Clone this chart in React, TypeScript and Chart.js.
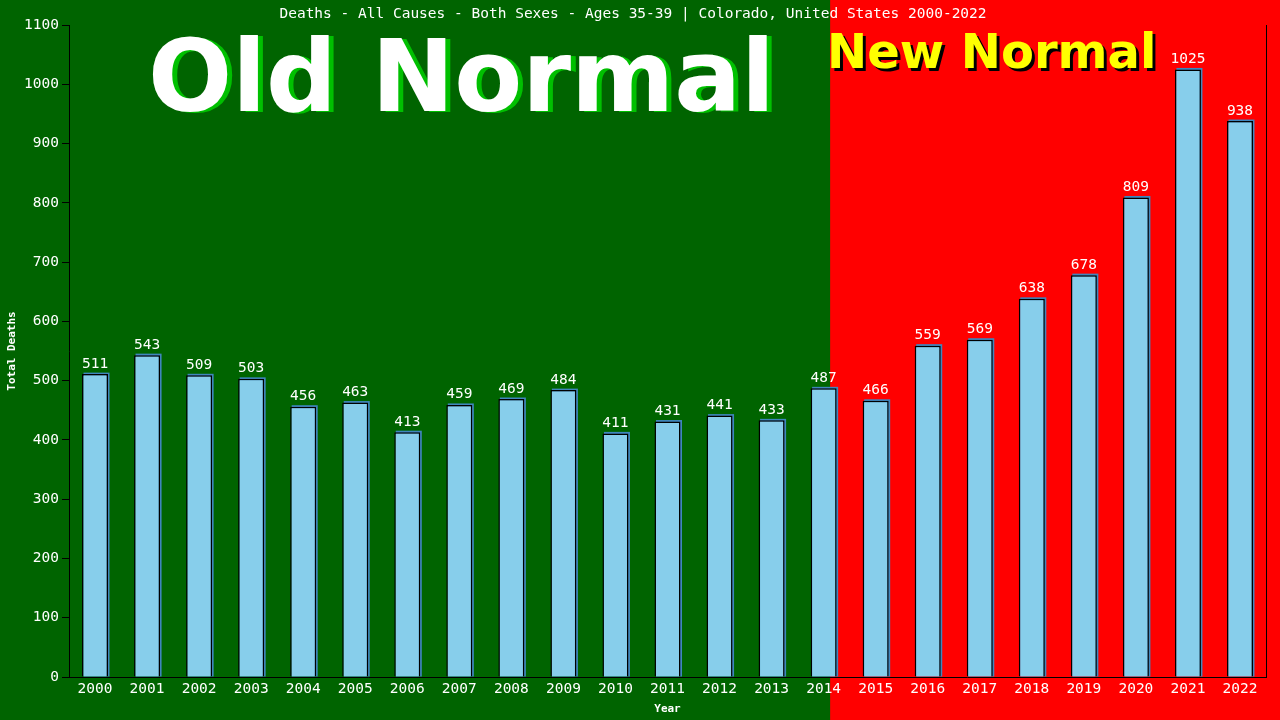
import React, { useEffect, useRef } from "react";
import { Chart, registerables } from "chart.js";

Chart.register(...registerables);

const years: string[] = [
  "2000", "2001", "2002", "2003", "2004", "2005", "2006", "2007", "2008", "2009", "2010", "2011",
  "2012", "2013", "2014", "2015", "2016", "2017", "2018", "2019", "2020", "2021", "2022",
];
const deaths: number[] = [
  511, 543, 509, 503, 456, 463, 413, 459, 469, 484, 411, 431, 441, 433, 487, 466, 559, 569, 638, 678,
  809, 1025, 938,
];
const titleText = "Deaths - All Causes - Both Sexes - Ages 35-39 | Colorado, United States 2000-2022";
const oldLabel = "Old Normal";
const newLabel = "New Normal";
const yTitle = "Total Deaths";
const xTitle = "Year";

const MONO = "'DejaVu Sans Mono', 'Liberation Mono', monospace";
const SANS_BOLD = "'DejaVu Sans', 'Noto Sans', sans-serif";

const backgroundPlugin = {
  id: "bgSplit",
  beforeDraw(chart: any) {
    const { ctx, width, height } = chart;
    const xs = chart.scales.x;
    const p14 = xs.getPixelForValue(14);
    const p15 = xs.getPixelForValue(15);
    const split = p14 + (p15 - p14) * 0.125;
    ctx.save();
    ctx.fillStyle = "#006400";
    ctx.fillRect(0, 0, width, height);
    ctx.fillStyle = "#ff0000";
    ctx.fillRect(split, 0, width - split, height);
    ctx.restore();
  },
};

const overlayPlugin = {
  id: "overlay",
  beforeDatasetsDraw(chart: any) {
    const { ctx, chartArea } = chart;
    ctx.save();
    ctx.textAlign = "left";
    ctx.textBaseline = "alphabetic";
    ctx.font = `bold 99px ${SANS_BOLD}`;
    ctx.fillStyle = "#00c000";
    ctx.fillText(oldLabel, 153, 112);
    ctx.fillStyle = "#ffffff";
    ctx.fillText(oldLabel, 148, 111);

    ctx.font = `bold 48px ${SANS_BOLD}`;
    ctx.fillStyle = "#000000";
    ctx.fillText(newLabel, 830, 71);
    ctx.fillStyle = "#ffff00";
    ctx.fillText(newLabel, 827, 68);

    ctx.strokeStyle = "#000000";
    ctx.lineWidth = 1;
    ctx.beginPath();
    ctx.moveTo(Math.round(chartArea.right) + 0.5, chartArea.top);
    ctx.lineTo(Math.round(chartArea.right) + 0.5, chartArea.bottom);
    ctx.stroke();

    const meta = chart.getDatasetMeta(0);
    ctx.fillStyle = "#3f86bd";
    meta.data.forEach((bar: any) => {
      const props = bar.getProps(["x", "y", "base", "width"], true);
      const left = props.x - props.width / 2;
      ctx.fillRect(left + 1.5, props.y - 1.5, props.width, props.base - props.y + 1.5);
    });
    ctx.restore();
  },
  afterDatasetsDraw(chart: any) {
    const { ctx } = chart;
    const meta = chart.getDatasetMeta(0);
    ctx.save();
    ctx.font = `14.5px ${MONO}`;
    ctx.fillStyle = "#ffffff";
    ctx.textAlign = "center";
    ctx.textBaseline = "bottom";
    meta.data.forEach((bar: any, i: number) => {
      const props = bar.getProps(["x", "y"], true);
      ctx.fillText(String(deaths[i]), props.x, props.y - 3);
    });
    ctx.restore();
  },
};

export default function App() {
  const canvasRef = useRef<HTMLCanvasElement | null>(null);

  useEffect(() => {
    if (!canvasRef.current) return;
    const chart = new Chart(canvasRef.current, {
      type: "bar",
      data: {
        labels: years,
        datasets: [
          {
            data: deaths,
            backgroundColor: "#87ceeb",
            borderColor: "#000000",
            borderWidth: 1.5,
            borderSkipped: "bottom",
            barPercentage: 0.5,
            categoryPercentage: 1,
          },
        ],
      },
      options: {
        responsive: true,
        maintainAspectRatio: false,
        animation: false,
        devicePixelRatio: 1,
        layout: { padding: { top: 0, left: 0, right: 14, bottom: 0 } },
        plugins: {
          legend: { display: false },
          tooltip: { enabled: false },
          title: {
            display: true,
            text: titleText,
            color: "#ffffff",
            font: { family: MONO, size: 14.5, weight: "normal", lineHeight: 1.2 },
            padding: { top: 5.5, bottom: 2.1 },
          },
        },
        scales: {
          x: {
            grid: { display: false, drawTicks: false },
            border: { display: true, color: "#000000", width: 1 },
            ticks: {
              color: "#ffffff",
              font: { family: MONO, size: 14.5 },
              padding: 4,
              maxRotation: 0,
              autoSkip: false,
            },
            title: {
              display: true,
              text: xTitle,
              color: "#ffffff",
              font: { family: MONO, size: 11, weight: "bold", lineHeight: 1.2 },
              padding: { top: 0, bottom: 4.5 },
            },
            afterFit(scale: any) {
              scale.height = 43;
            },
          },
          y: {
            min: 0,
            max: 1100,
            ticks: {
              stepSize: 100,
              color: "#ffffff",
              font: { family: MONO, size: 14.5 },
              padding: 3,
              callback: (v: any) => String(v),
            },
            grid: {
              display: true,
              drawOnChartArea: false,
              drawTicks: true,
              tickLength: 7,
              color: "#000000",
            },
            border: { display: true, color: "#000000", width: 1 },
            title: {
              display: true,
              text: yTitle,
              color: "#ffffff",
              font: { family: MONO, size: 11, weight: "bold", lineHeight: 1.2 },
              padding: { top: 6, bottom: 0 },
            },
            afterFit(scale: any) {
              scale.width = 69;
            },
          },
        },
      },
      plugins: [backgroundPlugin, overlayPlugin],
    });
    return () => chart.destroy();
  }, []);

  return (
    <div style={{ position: "fixed", left: 0, top: 0, width: 1280, height: 720, overflow: "hidden" }}>
      <canvas ref={canvasRef} />
    </div>
  );
}
